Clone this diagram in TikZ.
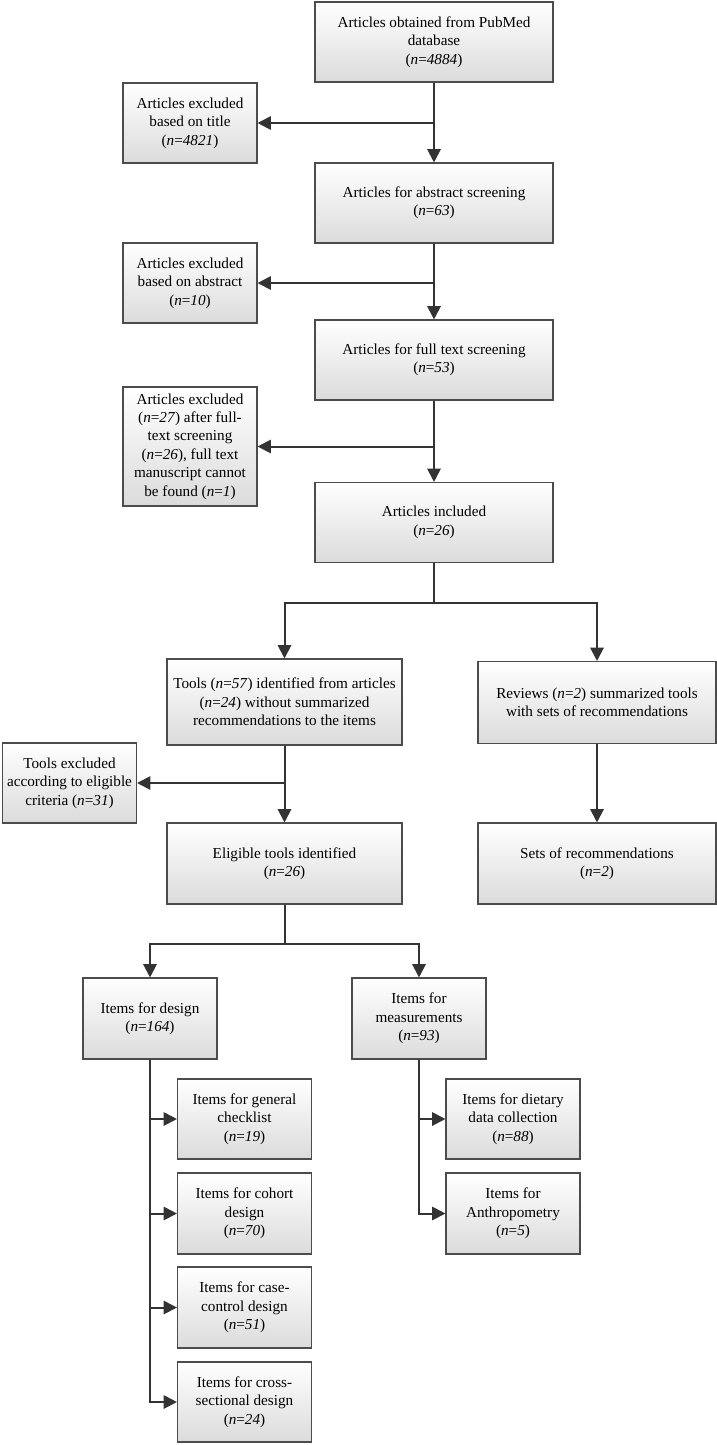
\documentclass[tikz,border=0pt]{standalone}
\usepackage{fontspec}
\setmainfont{Liberation Serif}
\usetikzlibrary{arrows.meta}

\newcommand{\nval}[1]{(\textit{n}=\textit{#1})}

\begin{document}
\begin{tikzpicture}[x=0.75pt, y=-0.75pt,
		box/.style = {draw=black!70, line width=0.8pt, top color=white, bottom color=black!14,
			align=center, inner xsep=2pt, inner ysep=1pt,
			font=\fontsize{11.4}{13.8}\selectfont},
		bigbox/.style = {box, minimum width=178.5pt, minimum height=60pt},
		midbox/.style = {box, minimum width=176.25pt, minimum height=60.75pt},
		smallbox/.style = {box, minimum width=100.5pt, minimum height=60pt},
		arrow/.style = {draw=black!80, line width=1.5pt, -{Triangle[length=10pt, width=10pt]}},
		line/.style = {draw=black!80, line width=1.5pt}]
		\useasboundingbox (0, 0) rectangle (717, 1445);

		% main column
		\node [bigbox] (pubmed) at (434, 42) {Articles obtained from PubMed\\database\\\nval{4884}};
		\node [smallbox] (extitle) at (190, 123) {Articles excluded\\based on title\\\nval{4821}};
		\node [bigbox] (abstract) at (434, 203) {Articles for abstract screening\\\nval{63}};
		\node [smallbox] (exabstract) at (190, 283) {Articles excluded\\based on abstract\\\nval{10}};
		\node [bigbox] (fulltext) at (434, 360) {Articles for full text screening\\\nval{53}};
		\node [smallbox, minimum height=89.25pt] (exfulltext) at (190, 446.5) {Articles excluded\\\nval{27} after full-\\text screening\\\nval{26}, full text\\manuscript cannot\\be found \nval{1}};
		\node [bigbox] (included) at (434, 522.5) {Articles included\\\nval{26}};

		% tools and reviews
		\node [midbox, minimum height=64.5pt] (tools) at (284.5, 702) {Tools \nval{57} identified from articles\\\nval{24} without summarized\\recommendations to the items};
		\node [bigbox, minimum height=61.5pt] (reviews) at (597, 702.5) {Reviews \nval{2} summarized tools\\with sets of recommendations};
		\node [smallbox] (extools) at (69.5, 783) {Tools excluded\\according to eligible\\criteria \nval{31}};
		\node [midbox] (eligible) at (284.5, 863.5) {Eligible tools identified\\\nval{26}};
		\node [bigbox, minimum height=60.75pt] (sets) at (597, 863.5) {Sets of recommendations\\\nval{2}};

		% items
		\node [smallbox, minimum height=60.75pt] (design) at (150, 1018.5) {Items for design\\\nval{164}};
		\node [smallbox, minimum height=60.75pt] (measure) at (419, 1018.5) {Items for\\measurements\\\nval{93}};
		\node [smallbox] (general) at (244.5, 1119) {Items for general\\checklist\\\nval{19}};
		\node [smallbox, minimum height=60.75pt] (cohort) at (244.5, 1213.5) {Items for cohort\\design\\\nval{70}};
		\node [smallbox, minimum height=60.75pt] (casecontrol) at (244.5, 1307.5) {Items for case-\\control design\\\nval{51}};
		\node [smallbox] (cross) at (244.5, 1402) {Items for cross-\\sectional design\\\nval{24}};
		\node [smallbox] (dietary) at (513, 1119) {Items for dietary\\data collection\\\nval{88}};
		\node [smallbox, minimum height=60.75pt] (anthro) at (513, 1213.5) {Items for\\Anthropometry\\\nval{5}};

		\coordinate (split1) at (434, 603);
		\coordinate (split2) at (284.5, 944);

		% connectors
		\draw [arrow] (pubmed) -- (abstract);
		\draw [arrow] (pubmed.south |- extitle.east) -- (extitle.east);
		\draw [arrow] (abstract) -- (fulltext);
		\draw [arrow] (abstract.south |- exabstract.east) -- (exabstract.east);
		\draw [arrow] (fulltext) -- (included);
		\draw [arrow] (fulltext.south |- exfulltext.east) -- (exfulltext.east);
		\draw [line] (included) -- (split1);
		\draw [arrow] (split1) -| (tools.north);
		\draw [arrow] (split1) -| (reviews.north);
		\draw [arrow] (tools) -- (eligible);
		\draw [arrow] (tools.south |- extools.east) -- (extools.east);
		\draw [arrow] (reviews) -- (sets);
		\draw [line] (eligible) -- (split2);
		\draw [arrow] (split2) -| (design.north);
		\draw [arrow] (split2) -| (measure.north);
		\draw [arrow] (design.south) |- (general.west);
		\draw [arrow] (design.south) |- (cohort.west);
		\draw [arrow] (design.south) |- (casecontrol.west);
		\draw [arrow] (design.south) |- (cross.west);
		\draw [arrow] (measure.south) |- (dietary.west);
		\draw [arrow] (measure.south) |- (anthro.west);
	\end{tikzpicture}
\end{document}
